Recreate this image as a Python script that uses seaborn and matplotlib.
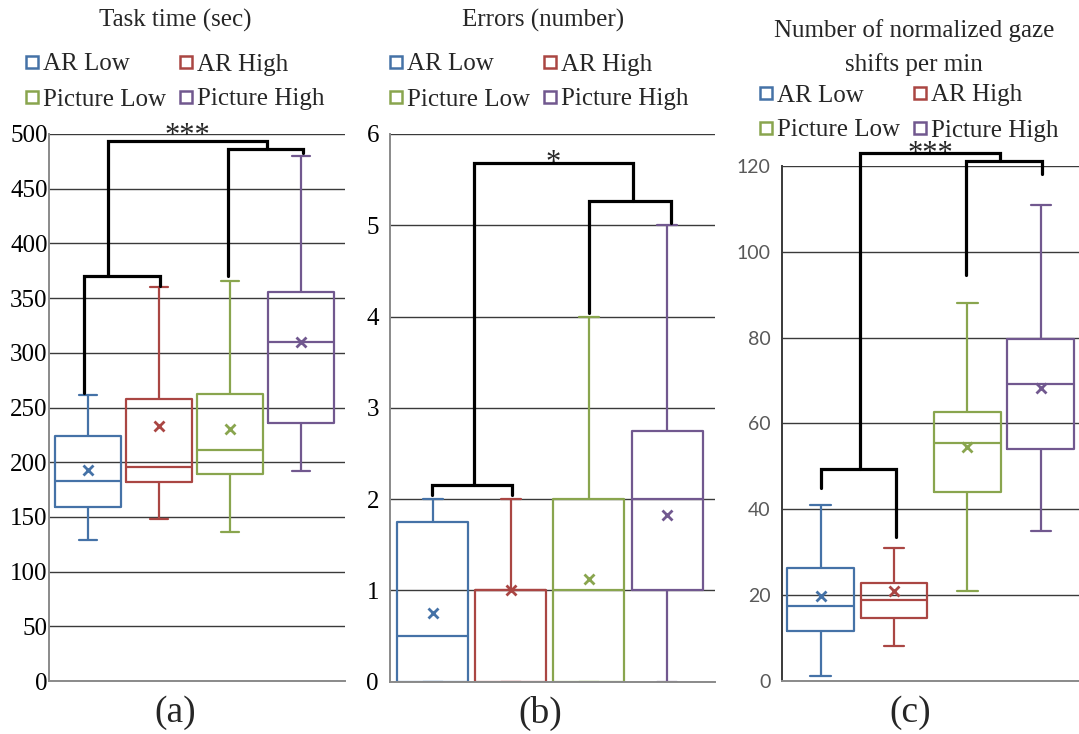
import numpy as np
import pandas as pd
import matplotlib
matplotlib.use("Agg")
import matplotlib.pyplot as plt
import seaborn as sns
from matplotlib.lines import Line2D

# ---------------- data ----------------
conditions = ["AR Low", "AR High", "Picture Low", "Picture High"]
colors = ["#4572A7", "#AA4643", "#89A54E", "#71588F"]

# (a) Task time (sec)
time_low = [129, 148, 136, 192]
time_q1 = [159, 182, 189, 236]
time_med = [183, 196, 211, 310]
time_q3 = [224, 258, 262, 356]
time_high = [261, 360, 366, 480]
time_mean = [193, 233, 230, 310]

# (b) Errors (number)
err_low = [0, 0, 0, 0]
err_q1 = [0, 0, 0, 1]
err_med = [0.5, 1, 1, 2]
err_q3 = [1.75, 1, 2, 2.75]
err_high = [2, 2, 4, 5]
err_mean = [0.75, 1.0, 1.12, 1.83]

# (c) Number of normalized gaze shifts per min
gaze_low = [1, 8, 21, 35]
gaze_q1 = [11.5, 14.6, 44, 54]
gaze_med = [17.5, 18.9, 55.4, 69.1]
gaze_q3 = [26.2, 22.8, 62.7, 79.7]
gaze_high = [41, 30.9, 88, 111]
gaze_mean = [19.8, 20.8, 54.6, 68.2]

titles = ["Task time (sec)", "Errors (number)",
          "Number of normalized gaze\nshifts per min"]
panel_tags = ["(a)", "(b)", "(c)"]
stars = ["***", "*", "***"]


def five_number_frame(low, q1, med, q3, high):
    rows = []
    for i, c in enumerate(conditions):
        for v in (low[i], q1[i], med[i], q3[i], high[i]):
            rows.append({"cond": c, "value": v})
    return pd.DataFrame(rows)


SERIF = ["Liberation Serif", "DejaVu Serif"]

sns.set_theme(style="white")
plt.rcParams["font.family"] = SERIF

fig = plt.figure(figsize=(10.79, 7.34), dpi=100)
W, H = 1079.0, 734.0


def axes_px(left, right, top, bottom):
    return fig.add_axes([left / W, 1 - bottom / H, (right - left) / W, (bottom - top) / H])


axA = axes_px(49, 345, 134, 681)
axB = axes_px(390, 715, 134, 681.7)
axC = axes_px(781.7, 1079, 166, 680.7)

panels = [
    (axA, five_number_frame(time_low, time_q1, time_med, time_q3, time_high), time_mean,
     (0, 500), np.arange(0, 501, 50), 0.93, (-0.55, 3.62), 0.25),
    (axB, five_number_frame(err_low, err_q1, err_med, err_q3, err_high), err_mean,
     (0, 6), np.arange(0, 7, 1), 0.91, (-0.55, 3.615), 0.26),
    (axC, five_number_frame(gaze_low, gaze_q1, gaze_med, gaze_q3, gaze_high), gaze_mean,
     (0, 120), np.arange(0, 121, 20), 0.91, (-0.532, 3.52), 0.28),
]

for k, (ax, df, means, ylim, yticks, bw, xlim, capw) in enumerate(panels):
    sns.boxplot(data=df, x="cond", y="value", hue="cond", order=conditions,
                hue_order=conditions, palette=colors, fill=False, width=bw,
                whis=np.inf, linewidth=1.6, legend=False, ax=ax, dodge=False,
                capwidths=capw)
    mdf = pd.DataFrame({"cond": conditions, "value": means})
    sns.pointplot(data=mdf, x="cond", y="value", hue="cond", order=conditions,
                  hue_order=conditions, palette=colors, markers="x",
                  linestyles="none", errorbar=None, legend=False, ax=ax,
                  markersize=7.5, markeredgewidth=2)
    ax.set_ylim(*ylim)
    ax.set_xlim(*xlim)
    ax.set_yticks(yticks)
    ax.set_xticks([])
    ax.set_xlabel("")
    ax.set_ylabel("")
    ax.yaxis.grid(True, color="#3a3a3a", linewidth=1.0)
    ax.set_axisbelow(True)
    for s in ["top", "right"]:
        ax.spines[s].set_visible(False)
    ax.spines["left"].set_color("#8a8a8a")
    ax.spines["bottom"].set_color("#8a8a8a")
    ax.spines["left"].set_linewidth(1.4)
    ax.spines["bottom"].set_linewidth(1.4)
    ax.tick_params(axis="y", length=0)
    if k < 2:
        ax.tick_params(axis="y", labelsize=18, pad=(1 if k == 0 else 8),
                       labelfontfamily="Liberation Serif", labelcolor="black")
    else:
        ax.tick_params(axis="y", labelsize=14, pad=8, labelcolor="#595959",
                       labelfontfamily="Lato")
        ax.spines["left"].set_color("#3a3a3a")


def bracket(ax, x1, x2, y, y1, y2):
    ax.plot([x1, x1, x2, x2], [y1, y, y, y2], color="black", lw=2.3,
            clip_on=False, solid_joinstyle="miter", zorder=5)


# significance brackets (annotation geometry, data coordinates)
bracket(axA, -0.06, 1.01, 370, 263, 361)
bracket(axA, 0.28, 2.52, 494, 370, 486)
bracket(axA, 1.97, 3.03, 486, 370, 483)
axA.text(1.40, 491, stars[0], ha="center", va="baseline", fontsize=22, family=SERIF)

bracket(axB, -0.01, 1.01, 2.16, 2.05, 2.05)
bracket(axB, 0.53, 2.56, 5.68, 2.16, 5.27)
bracket(axB, 2.00, 3.05, 5.27, 4.04, 5.03)
axB.text(1.545, 5.60, stars[1], ha="center", va="baseline", fontsize=22, family=SERIF)

bracket(axC, 0.01, 1.03, 49.4, 44.9, 33.6)
bracket(axC, 0.54, 2.45, 123.1, 49.4, 121.2)
bracket(axC, 1.98, 3.01, 121.2, 94.6, 118.1)
axC.text(1.49, 121.0, stars[2], ha="center", va="baseline", fontsize=22, family=SERIF)

# titles
fig.text(175 / W, 1 - 20 / H, titles[0], ha="center", va="center", fontsize=18, family=SERIF)
fig.text(543 / W, 1 - 20 / H, titles[1], ha="center", va="center", fontsize=18, family=SERIF)
t1, t2 = titles[2].split("\n")
fig.text(914 / W, 1 - 31 / H, t1, ha="center", va="center", fontsize=18, family=SERIF)
fig.text(914 / W, 1 - 65 / H, t2, ha="center", va="center", fontsize=18, family=SERIF)

# panel tags
for tag, x in zip(panel_tags, [175, 540, 910]):
    fig.text(x / W, 1 - 713 / H, tag, ha="center", va="center", fontsize=27, family=SERIF)

# legends
handles = [Line2D([], [], marker="s", ls="none", mfc="white", mec=c, mew=1.8, ms=9)
           for c in colors]
order = [0, 2, 1, 3]
for ax, (lx, ly) in zip([axA, axB, axC], [(24, 53), (388, 53), (758, 84)]):
    leg = ax.legend([handles[i] for i in order], [conditions[i] for i in order],
                    ncol=2, loc="upper left", bbox_to_anchor=(lx / W, 1 - ly / H),
                    bbox_transform=fig.transFigure, frameon=False,
                    prop={"family": SERIF, "size": 18}, handlelength=0.6,
                    handletextpad=0.15, columnspacing=0.5, borderpad=0,
                    borderaxespad=0, labelspacing=0.5)

fig.savefig("out.png", dpi=100)
